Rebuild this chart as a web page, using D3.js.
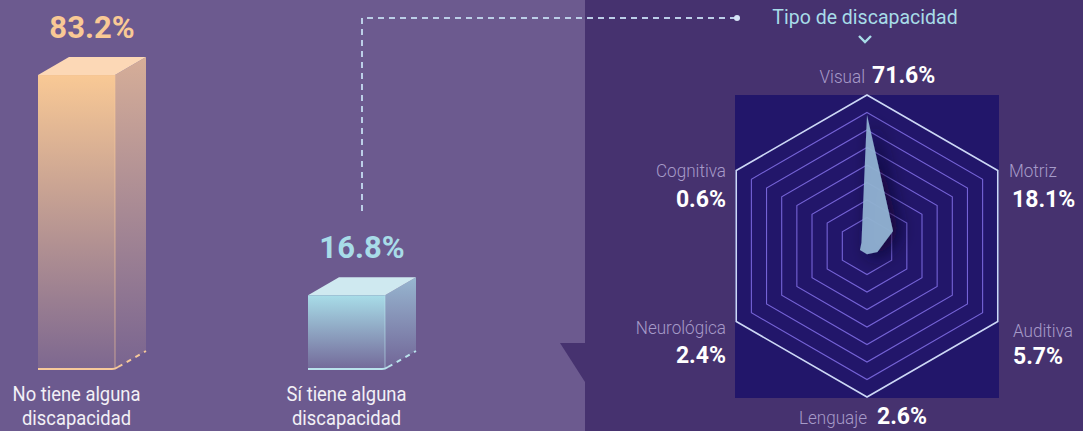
<!DOCTYPE html>
<html>
<head>
<meta charset="utf-8">
<script src="https://cdn.jsdelivr.net/npm/d3@7"></script>
<style>
  html, body { margin: 0; padding: 0; background: #6c5a8f; }
  svg { display: block; font-family: Roboto, "Noto Sans", sans-serif; }
</style>
</head>
<body>
<div id="chart"></div>
<script>
// bar data
const barCategories = ["No tiene alguna discapacidad", "Sí tiene alguna discapacidad"];
const barLabelLines = [["No tiene alguna", "discapacidad"], ["Sí tiene alguna", "discapacidad"]];
const barValues = [83.2, 16.8];
const barLabels = ["83.2%", "16.8%"];

// radar data (clockwise from top)
const radarCategories = ["Visual", "Motriz", "Auditiva", "Lenguaje", "Neurológica", "Cognitiva"];
const radarValues = [71.6, 18.1, 5.7, 2.6, 2.4, 0.6];
const radarLabels = ["71.6%", "18.1%", "5.7%", "2.6%", "2.4%", "0.6%"];
const ringLevels = [1, 2, 3, 4, 5, 6, 7, 8];

const title = "Tipo de discapacidad";

const W = 1083, H = 431;
const svg = d3.select("#chart").append("svg").attr("width", W).attr("height", H);
const defs = svg.append("defs");

// backgrounds
svg.append("rect").attr("width", W).attr("height", H).attr("fill", "#6c5a8f");
svg.append("rect").attr("x", 585).attr("width", W - 585).attr("height", H).attr("fill", "#46326f");
svg.append("path").attr("d", "M560,343L585,343L585,382Z").attr("fill", "#46326f");

function fade(id, color, top, bottom) {
  const g = defs.append("linearGradient").attr("id", id)
    .attr("x1", 0).attr("y1", 0).attr("x2", 0).attr("y2", 1);
  g.append("stop").attr("offset", "0%").attr("stop-color", color).attr("stop-opacity", top);
  g.append("stop").attr("offset", "100%").attr("stop-color", color).attr("stop-opacity", bottom);
}

// ---------- 3D bars ----------
const barColors = [
  { front: "#f9c995", side: "#d6ae98", top: "#fcd8b6", line: "#f6c99a", text: "#f9c995" },
  { front: "#a8dde8", side: "#97b6d0", top: "#cfe9f0", line: "#b9e2ec", text: "#a8dce8" }
];
const depthX = 31, depthY = 18, barW = 77;

const x = d3.scalePoint().domain(barCategories).range([76.5, 346.5]);
const y = d3.scaleLinear().domain([0, 100]).range([351, 19.3]);
const floorY = y(0) + depthY;

barCategories.forEach((c, i) => {
  const col = barColors[i];
  fade("front" + i, col.front, 1, 0.12);
  fade("side" + i, col.side, 1, 0.12);
  const x0 = x(c) - barW / 2, x1 = x(c) + barW / 2;
  const top = y(barValues[i]);
  const g = svg.append("g");

  g.append("path")
    .attr("d", `M${x1},${top}L${x1 + depthX},${top - depthY}L${x1 + depthX},${floorY - depthY}L${x1},${floorY}Z`)
    .attr("fill", `url(#side${i})`);
  g.append("path")
    .attr("d", `M${x0},${top}L${x0 + depthX},${top - depthY}L${x1 + depthX},${top - depthY}L${x1},${top}Z`)
    .attr("fill", col.top);
  g.append("rect")
    .attr("x", x0).attr("y", top).attr("width", barW).attr("height", floorY - top)
    .attr("fill", `url(#front${i})`);
  g.append("line")
    .attr("x1", x1).attr("x2", x1).attr("y1", top).attr("y2", floorY)
    .attr("stroke", col.line).attr("stroke-opacity", 0.6).attr("stroke-width", 1);
  g.append("path")
    .attr("d", `M${x0},${floorY}L${x1 - 3},${floorY}Q${x1},${floorY} ${x1 + 3},${floorY - 2}`)
    .attr("fill", "none").attr("stroke", col.line).attr("stroke-width", 2);
  g.append("line")
    .attr("x1", x1 + 3).attr("y1", floorY - 2).attr("x2", x1 + depthX).attr("y2", floorY - depthY)
    .attr("stroke", col.line).attr("stroke-width", 2).attr("stroke-dasharray", "5 5");

  svg.append("text")
    .attr("x", x(c) + depthX / 2).attr("y", top - 37)
    .attr("text-anchor", "middle").attr("font-size", 31).attr("font-weight", 700)
    .attr("fill", col.text).text(barLabels[i]);

  barLabelLines[i].forEach((line, j) => {
    svg.append("text")
      .attr("transform", `translate(${x(c)},${401 + j * 24}) scale(0.92,1)`)
      .attr("text-anchor", "middle").attr("font-size", 20)
      .attr("fill", "#f2f0f6").text(line);
  });
});

// dashed connector
const connX = x(barCategories[1]) + depthX / 2;
svg.append("path")
  .attr("d", `M${connX},211L${connX},18L737,18`)
  .attr("fill", "none").attr("stroke", "#bccfe8").attr("stroke-width", 2)
  .attr("stroke-dasharray", "6 5");
svg.append("circle").attr("cx", 737).attr("cy", 18).attr("r", 3).attr("fill", "#d6e4f6");

// title
svg.append("text")
  .attr("transform", "translate(865,24) scale(0.93,1)")
  .attr("text-anchor", "middle").attr("font-size", 21)
  .attr("fill", "#a8dce8").text(title);
svg.append("path")
  .attr("d", "M859,36L865,42L871,36")
  .attr("fill", "none").attr("stroke", "#a8dce8").attr("stroke-width", 2.4);

// ---------- radar ----------
const cx = 867, cy = 246, R = 151;
svg.append("rect").attr("x", 735).attr("y", 95).attr("width", 264).attr("height", 303)
  .attr("fill", "#22166a");

const angle = d3.scalePoint().domain(radarCategories).range([0, 2 * Math.PI * 5 / 6]);
const ring = d3.scaleLinear().domain([0, ringLevels.length]).range([11, R]);
const r = d3.scalePow().exponent(1.2).domain([0, 80]).range([6, 149]);

const radial = d3.lineRadial().angle(d => d[0]).radius(d => d[1]).curve(d3.curveLinearClosed);
const rg = svg.append("g").attr("transform", `translate(${cx},${cy})`);

ringLevels.forEach((lv, k) => {
  rg.append("path")
    .attr("d", radial(radarCategories.map(c => [angle(c), ring(lv)])))
    .attr("fill", "none")
    .attr("stroke", k === ringLevels.length - 1 ? "#cdd8f6" : "#7563d6")
    .attr("stroke-width", k === ringLevels.length - 1 ? 1.6 : 1.1);
});

const sh = defs.append("filter").attr("id", "shadow")
  .attr("x", "-150%").attr("y", "-50%").attr("width", "400%").attr("height", "200%");
sh.append("feDropShadow").attr("dx", 7).attr("dy", 3).attr("stdDeviation", 9)
  .attr("flood-color", "#0a0628").attr("flood-opacity", 0.8);

rg.append("path")
  .attr("d", radial(radarCategories.map((c, i) => [angle(c), r(radarValues[i])])))
  .attr("fill", "#93b4d4").attr("fill-opacity", 0.92)
  .attr("filter", "url(#shadow)");

// radar labels: [name x, name y, anchor, value x, value y, value anchor]
const labelPos = [
  [865, 83, "end", 872, 83, "start"],
  [1009, 177, "start", 1012, 207, "start"],
  [1013, 337, "start", 1013, 364, "start"],
  [867, 424, "end", 877, 424, "start"],
  [726, 334, "end", 726, 363, "end"],
  [726, 177, "end", 726, 207, "end"]
];
radarCategories.forEach((c, i) => {
  const p = labelPos[i];
  svg.append("text")
    .attr("transform", `translate(${p[0]},${p[1]}) scale(0.9,1)`)
    .attr("text-anchor", p[2]).attr("font-size", 19).attr("font-weight", 300)
    .attr("fill", "#a69bc9").text(c);
  svg.append("text")
    .attr("x", p[3]).attr("y", p[4])
    .attr("text-anchor", p[5]).attr("font-size", 23).attr("font-weight", 700)
    .attr("fill", "#ffffff").text(radarLabels[i]);
});
</script>
</body>
</html>
